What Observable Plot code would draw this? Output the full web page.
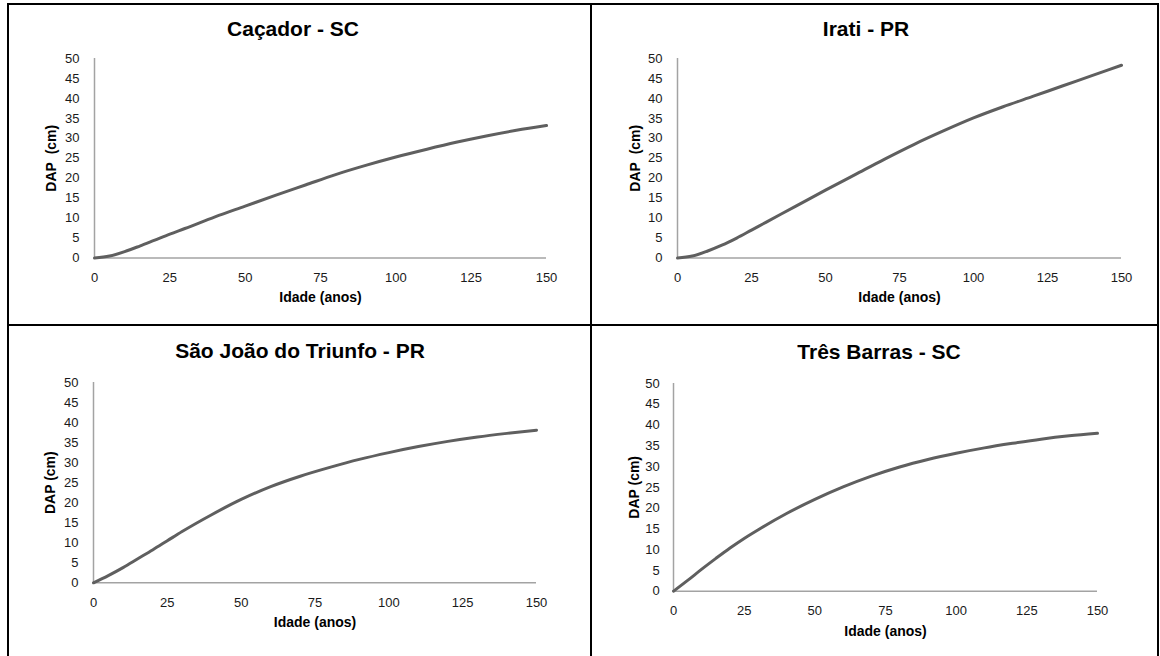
<!DOCTYPE html>
<html><head><meta charset="utf-8">
<script src="https://cdn.jsdelivr.net/npm/d3@7"></script>
<script src="https://cdn.jsdelivr.net/npm/@observablehq/plot@0.6"></script>
<style>
html,body{margin:0;padding:0;background:#fff;}
body{width:1160px;height:656px;overflow:hidden;position:relative;font-family:"Liberation Sans",Arial,sans-serif;}
.b{position:absolute;background:#000;}
.t{position:absolute;font-weight:bold;font-size:21px;line-height:20px;white-space:nowrap;transform:translateX(-50%);color:#000;}
</style></head><body>
<script>
// ---- data ----
const ages        = [0, 5, 10, 15, 20, 25, 30, 40, 50, 60, 70, 80, 90, 100, 110, 120, 130, 140, 150];
const cacador     = [0, 0.5, 1.6, 3.0, 4.5, 6.0, 7.4, 10.3, 13.0, 15.7, 18.3, 20.9, 23.2, 25.3, 27.2, 29.0, 30.6, 32.0, 33.2];
const irati       = [0, 0.5, 1.7, 3.2, 5.0, 7.0, 9.0, 13.0, 17.0, 20.9, 24.8, 28.5, 31.9, 35.1, 37.9, 40.5, 43.1, 45.7, 48.3];
const saoJoao     = [0, 1.8, 3.8, 6.0, 8.2, 10.5, 12.8, 17.0, 20.8, 24.0, 26.6, 28.8, 30.8, 32.5, 34.0, 35.3, 36.4, 37.3, 38.1];
const tresBarras  = [0, 2.6, 5.3, 7.9, 10.4, 12.7, 14.8, 18.7, 22.1, 25.1, 27.7, 29.9, 31.7, 33.2, 34.5, 35.6, 36.6, 37.4, 38.0];
const titles      = ["Caçador - SC", "Irati - PR", "São João do Triunfo - PR", "Três Barras - SC"];
const series      = [cacador, irati, saoJoao, tresBarras];
const xTicks      = [0, 25, 50, 75, 100, 125, 150];
const yTicks      = [0, 5, 10, 15, 20, 25, 30, 35, 40, 45, 50];
const xLabel      = "Idade (anos)";
const yLabels     = ["DAP\u00a0 (cm)", "DAP\u00a0 (cm)", "DAP (cm)", "DAP (cm)"];

// ---- layout (page pixels) ----
const layout = [
  {x0: 94,  x1: 546,  yT: 58,  yB: 257.5, tx: 293, tt: 19,    ylx: -42.5, yPad: 15,   xPad: 15,   xly: 39.5},
  {x0: 677, x1: 1121, yT: 58,  yB: 257.5, tx: 866, tt: 19,    ylx: -42,   yPad: 15,   xPad: 15,   xly: 39.5},
  {x0: 93,  x1: 536,  yT: 382, yB: 582.3, tx: 300, tt: 340.5, ylx: -43,   yPad: 15,   xPad: 14.5, xly: 39.4},
  {x0: 673, x1: 1097, yT: 383, yB: 590.7, tx: 879, tt: 342,   ylx: -39,   yPad: 13.7, xPad: 15,   xly: 40.3}
];

// borders
function box(l, t, w, h) {
  const d = document.createElement("div");
  d.className = "b";
  Object.assign(d.style, {left: l + "px", top: t + "px", width: w + "px", height: h + "px"});
  document.body.appendChild(d);
}
box(7, 3, 2, 660);
box(7, 3, 1152, 2);
box(590, 3, 2, 660);
box(7, 324, 1152, 2);
box(1157, 3, 2, 660);

const ML = 90, MR = 12, MT = 12, MB = 60;
layout.forEach((g, i) => {
  const data = ages.map((a, k) => ({age: a, dap: series[i][k]}));
  const plot = Plot.plot({
    width: ML + (g.x1 - g.x0) + MR,
    height: MT + (g.yB - g.yT) + MB,
    marginLeft: ML, marginRight: MR, marginTop: MT, marginBottom: MB,
    x: {domain: [0, 150]},
    y: {domain: [0, 50]},
    style: {fontFamily: '"Liberation Sans", Arial, sans-serif', fontSize: "13px", color: "#1a1a1a", background: "transparent", overflow: "visible"},
    marks: [
      Plot.ruleY([0], {stroke: "#a3a3a3", strokeWidth: 1.5}),
      Plot.ruleX([0], {stroke: "#a3a3a3", strokeWidth: 1.5}),
      Plot.line(data, {x: "age", y: "dap", stroke: "#5f5f5f", strokeWidth: 3, curve: "monotone-x"}),
      Plot.axisX({ticks: xTicks, tickSize: 0, tickPadding: g.xPad, label: null, tickFormat: d => String(d)}),
      Plot.axisY({ticks: yTicks, tickSize: 0, tickPadding: g.yPad, label: null, tickFormat: d => String(d)}),
      Plot.text([xLabel], {text: d => d, frameAnchor: "bottom", lineAnchor: "middle", textAnchor: "middle", dy: g.xly, fontWeight: "bold", fontSize: 14, fill: "#000"}),
      Plot.text([yLabels[i]], {text: d => d, frameAnchor: "left", lineAnchor: "middle", textAnchor: "middle", dx: g.ylx, rotate: -90, fontWeight: "bold", fontSize: 14, fill: "#000"})
    ]
  });
  Object.assign(plot.style, {position: "absolute", left: (g.x0 - ML) + "px", top: (g.yT - MT) + "px", maxWidth: "none"});
  document.body.appendChild(plot);

  const t = document.createElement("div");
  t.className = "t";
  t.textContent = titles[i];
  Object.assign(t.style, {left: g.tx + "px", top: g.tt + "px"});
  document.body.appendChild(t);
});
</script>
</body></html>
